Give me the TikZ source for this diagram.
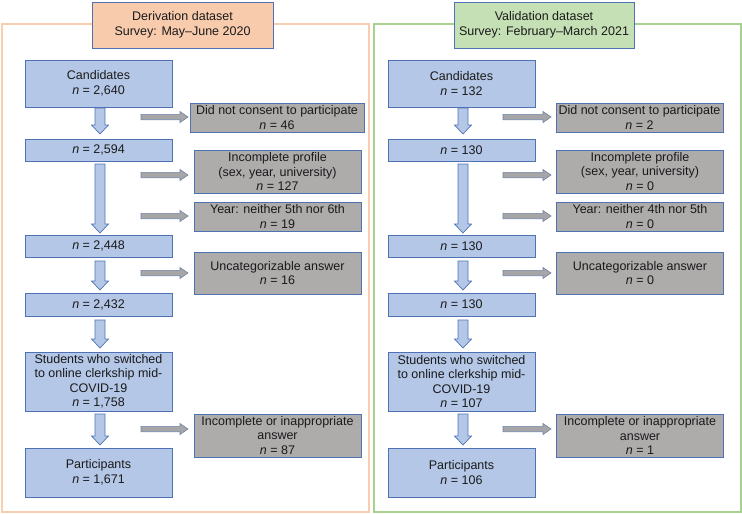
\documentclass[tikz,border=0pt]{standalone}
\usepackage{fontspec}
\setmainfont{Liberation Sans}
\definecolor{bfill}{HTML}{B4C7E7}
\definecolor{bline}{HTML}{4F72B5}
\definecolor{gfill}{HTML}{AEABAB}
\definecolor{afill}{HTML}{A6A6A6}
\definecolor{aline}{HTML}{6F84A8}
\definecolor{peach}{HTML}{F8CBAD}
\definecolor{peachframe}{HTML}{F8CDB0}
\definecolor{lgreen}{HTML}{C5E0B4}
\definecolor{greenframe}{HTML}{A9D18E}
\definecolor{txt}{HTML}{1A1A1A}
\tikzset{
  basebox/.style={draw=bline, line width=0.8pt, inner sep=0pt, align=center, text=txt,
    font=\fontsize{12.5}{14.5}\selectfont},
  bbox/.style={basebox, fill=bfill},
  gbox/.style={basebox, fill=gfill},
  hdrL/.style={basebox, fill=peach},
  hdrR/.style={basebox, fill=lgreen},
  blkarrow/.style={draw=bline, fill=bfill, line width=0.7pt, line join=miter},
  garrow/.style={draw=aline, fill=afill, line width=0.6pt, line join=miter},
}
\newcommand\vblk[3]{\draw[blkarrow] (#1-5,#2) -- (#1+5,#2) -- (#1+5,#3-9) -- (#1+8.5,#3-9) -- (#1,#3) -- (#1-8.5,#3-9) -- (#1-5,#3-9) -- cycle;}
\newcommand\hblk[3]{\draw[garrow] (#2,#1-2.7) -- (#3-8,#1-2.7) -- (#3-8,#1-5.5) -- (#3,#1) -- (#3-8,#1+5.5) -- (#3-8,#1+2.7) -- (#2,#1+2.7) -- cycle;}
\begin{document}
\begin{tikzpicture}[x=1pt,y=-1pt]
\useasboundingbox (0,0) rectangle (742,514);
% frames
\draw[peachframe, line width=1.8pt] (2,24) rectangle (369,512);
\draw[greenframe, line width=1.8pt] (374,24) rectangle (741,512);
% headers
\node[hdrL, minimum width=181, minimum height=46] (hL) at (182.5,25) {Derivation dataset\\Survey: May–June 2020};
\node[hdrR, minimum width=180, minimum height=46] (hR) at (544,25) {Validation dataset\\Survey: February–March 2021};
% left column
\node[bbox, minimum width=147, minimum height=47] (cL) at (98.5,83.5) {Candidates\\\textit{n} = 2,640};
\node[bbox, minimum width=147, minimum height=22] (aL) at (98.5,150) {\textit{n} = 2,594};
\node[bbox, minimum width=147, minimum height=22] (bL) at (98.5,246) {\textit{n} = 2,448};
\node[bbox, minimum width=147, minimum height=23] (dL) at (98.5,304.5) {\textit{n} = 2,432};
\node[bbox, minimum width=147, minimum height=59] (sL) at (98.5,381.5) {Students who switched\\to online clerkship mid-{}\\COVID-19\\\textit{n} = 1,758};
\node[bbox, minimum width=147, minimum height=49] (pL) at (98.5,472.5) {Participants\\\textit{n} = 1,671};
\node[gbox, minimum width=174, minimum height=29] (g1L) at (277,117.5) {Did not consent to participate\\\textit{n} = 46};
\node[gbox, minimum width=167, minimum height=43] (g2L) at (277.5,171.5) {Incomplete profile\\(sex, year, university)\\\textit{n} = 127};
\node[gbox, minimum width=167, minimum height=29] (g3L) at (277.5,216.5) {Year: neither 5th nor 6th\\\textit{n} = 19};
\node[gbox, minimum width=167, minimum height=42] (g4L) at (277.5,273) {Uncategorizable answer\\\textit{n} = 16};
\node[gbox, minimum width=167, minimum height=43] (g5L) at (277.5,435.5) {Incomplete or inappropriate\\answer\\\textit{n} = 87};
% right column
\node[bbox, minimum width=147, minimum height=47] (cR) at (461.5,83.5) {Candidates\\\textit{n} = 132};
\node[bbox, minimum width=147, minimum height=22] (aR) at (461.5,150) {\textit{n} = 130};
\node[bbox, minimum width=147, minimum height=22] (bR) at (461.5,246) {\textit{n} = 130};
\node[bbox, minimum width=147, minimum height=23] (dR) at (461.5,304.5) {\textit{n} = 130};
\node[bbox, minimum width=147, minimum height=59] (sR) at (461.5,381.5) {Students who switched\\to online clerkship mid-{}\\COVID-19\\\textit{n} = 107};
\node[bbox, minimum width=147, minimum height=49] (pR) at (461.5,472.5) {Participants\\\textit{n} = 106};
\node[gbox, minimum width=167, minimum height=29] (g1R) at (639.5,117.5) {Did not consent to participate\\\textit{n} = 2};
\node[gbox, minimum width=167, minimum height=43] (g2R) at (640,171.5) {Incomplete profile\\(sex, year, university)\\\textit{n} = 0};
\node[gbox, minimum width=167, minimum height=29] (g3R) at (640,216.5) {Year: neither 4th nor 5th\\\textit{n} = 0};
\node[gbox, minimum width=167, minimum height=42] (g4R) at (640,273) {Uncategorizable answer\\\textit{n} = 0};
\node[gbox, minimum width=167, minimum height=43] (g5R) at (640,435.5) {Incomplete or inappropriate\\answer\\\textit{n} = 1};
% vertical block arrows
\foreach \cx in {100,463}{
  \vblk{\cx}{108}{134}
  \vblk{\cx}{164}{233}
  \vblk{\cx}{261}{290}
  \vblk{\cx}{320}{348}
  \vblk{\cx}{414}{445}
}
% horizontal gray arrows
\foreach \yy in {117,175,216,273,429}{
  \hblk{\yy}{141}{188}
  \hblk{\yy}{503}{551}
}
\end{tikzpicture}
\end{document}
